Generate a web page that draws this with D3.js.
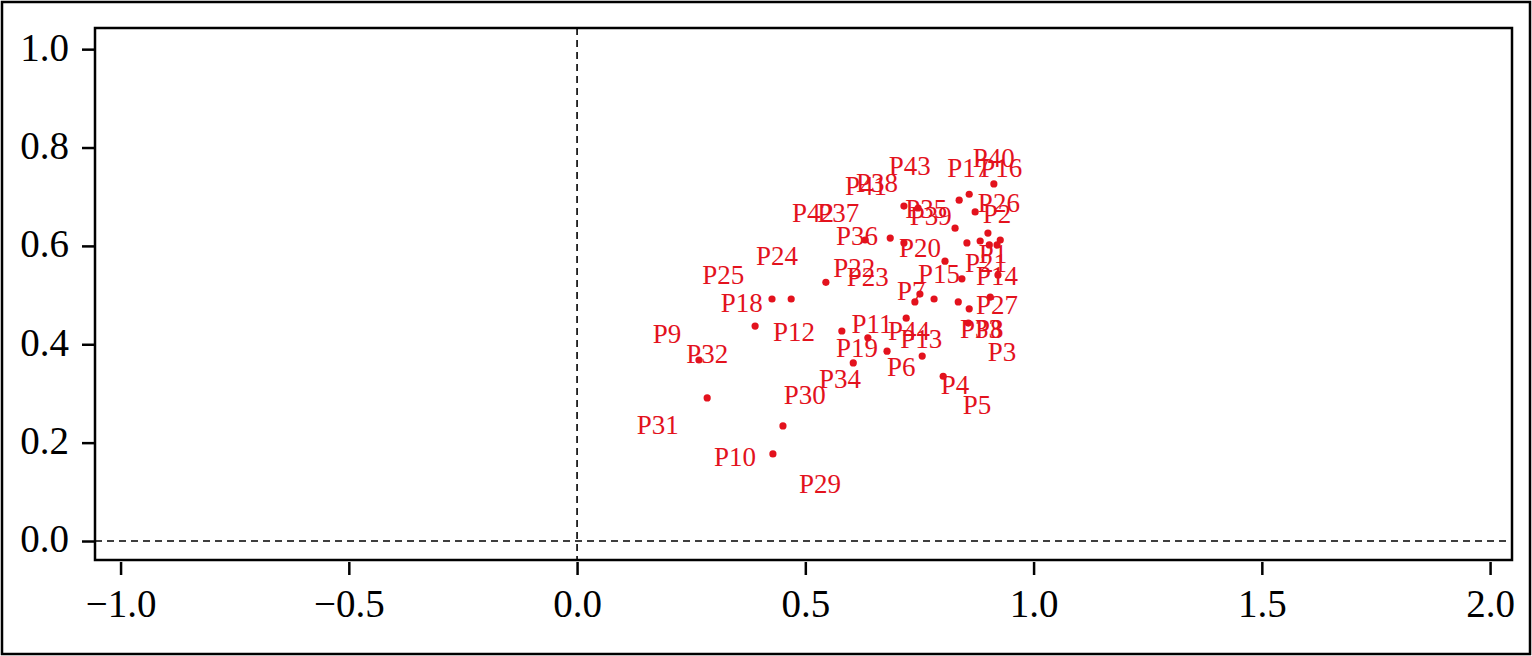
<!DOCTYPE html>
<html><head><meta charset="utf-8">
<script src="https://cdn.jsdelivr.net/npm/d3@7"></script>
<style>html,body{margin:0;padding:0;background:#fff;}svg{display:block;}</style>
</head><body>
<script>
// Point coordinates (Dim x, Dim y)
const pointX = [0.913,0.859,0.837,0.716,0.747,0.872,0.828,0.900,0.686,0.631,0.716,0.854,0.883,0.903,0.920,0.927,0.806,0.843,0.922,0.545,0.751,0.740,0.782,0.835,0.905,0.859,0.427,0.469,0.721,0.857,0.390,0.580,0.637,0.679,0.756,0.267,0.605,0.802,0.285,0.451,0.429];
const pointY = [0.726,0.705,0.693,0.681,0.677,0.669,0.636,0.626,0.616,0.612,0.606,0.606,0.610,0.602,0.602,0.612,0.569,0.533,0.541,0.526,0.502,0.486,0.492,0.486,0.496,0.472,0.492,0.492,0.453,0.443,0.437,0.427,0.413,0.386,0.376,0.368,0.362,0.335,0.291,0.234,0.177];
// Label names and their anchor coordinates (data units)
const labelNames = ["P1","P2","P3","P4","P5","P6","P7","P8","P9","P10","P11","P12","P13","P14","P15","P16","P17","P18","P19","P20","P21","P22","P23","P24","P25","P26","P27","P38","P29","P30","P31","P32","P34","P35","P36","P37","P33","P39","P40","P41","P42","P43","P44"];
const labelX = [0.911,0.920,0.931,0.828,0.876,0.710,0.732,0.903,0.197,0.346,0.646,0.475,0.754,0.920,0.793,0.929,0.857,0.361,0.613,0.751,0.896,0.607,0.637,0.438,0.320,0.924,0.920,0.657,0.532,0.499,0.177,0.285,0.576,0.765,0.613,0.572,0.885,0.775,0.913,0.633,0.517,0.729,0.727];
const labelY = [0.565,0.646,0.366,0.299,0.258,0.335,0.490,0.413,0.402,0.152,0.423,0.407,0.392,0.520,0.524,0.740,0.740,0.465,0.374,0.577,0.547,0.537,0.518,0.561,0.522,0.669,0.461,0.709,0.098,0.278,0.217,0.362,0.311,0.657,0.602,0.648,0.413,0.642,0.760,0.703,0.648,0.744,0.409];
const xTicks = [-1.0,-0.5,0.0,0.5,1.0,1.5,2.0];
const yTicks = [0.0,0.2,0.4,0.6,0.8,1.0];

const W = 1532, H = 656;
const red = "#e3121d";
const font = "'Liberation Serif','Times New Roman',Times,serif";
const svg = d3.select("body").append("svg").attr("width", W).attr("height", H);

svg.append("rect").attr("x",2).attr("y",2).attr("width",W-4).attr("height",H-4)
  .attr("fill","none").attr("stroke","#000").attr("stroke-width",2.5);

const x = d3.scaleLinear().domain([-1.056, 2.048]).range([95, 1512]);
const y = d3.scaleLinear().domain([-0.0386, 1.043]).range([560, 28]);

// reference lines
svg.append("line").attr("x1", x(0)).attr("x2", x(0)).attr("y1", y.range()[1]).attr("y2", y.range()[0])
  .attr("stroke","#000").attr("stroke-width",1.6).attr("stroke-dasharray","7,5");
svg.append("line").attr("x1", x.range()[0]).attr("x2", x.range()[1]).attr("y1", y(0)).attr("y2", y(0))
  .attr("stroke","#000").attr("stroke-width",1.6).attr("stroke-dasharray","7,5");

// axes
const fmt = d => (d < 0 ? "\u2212" : "") + Math.abs(d).toFixed(1);
const xAxis = svg.append("g").attr("transform", `translate(0,${y.range()[0]+2})`)
  .call(d3.axisBottom(x).tickValues(xTicks).tickFormat(fmt).tickSize(13).tickPadding(14));
const yAxis = svg.append("g").attr("transform", `translate(${x.range()[0]},0)`)
  .call(d3.axisLeft(y).tickValues(yTicks).tickFormat(fmt).tickSize(13).tickPadding(13));
[xAxis, yAxis].forEach(g => {
  g.select(".domain").remove();
  g.selectAll(".tick line").attr("stroke","#000").attr("stroke-width",2.5);
  g.selectAll(".tick text").attr("fill","#000").style("font-family", font).style("font-size","39px");
});
yAxis.selectAll(".tick text").attr("dy","0.28em");
xAxis.selectAll(".tick text").attr("dy","0.71em");

// frame
svg.append("rect").attr("x", x.range()[0]).attr("y", y.range()[1])
  .attr("width", x.range()[1]-x.range()[0]).attr("height", y.range()[0]-y.range()[1])
  .attr("fill","none").attr("stroke","#000").attr("stroke-width",2.5);

// points
svg.append("g").selectAll("circle").data(pointX.map((v,i)=>({x:v,y:pointY[i]})))
  .join("circle").attr("cx", d=>x(d.x)).attr("cy", d=>y(d.y)).attr("r", 3.6).attr("fill", red);

// labels
svg.append("g").selectAll("text").data(labelNames.map((n,i)=>({n, x:labelX[i], y:labelY[i]})))
  .join("text").attr("x", d=>x(d.x)).attr("y", d=>y(d.y)).attr("text-anchor","middle")
  .attr("fill", red).style("font-family", font).style("font-size","27px").text(d=>d.n);
</script>
</body></html>
